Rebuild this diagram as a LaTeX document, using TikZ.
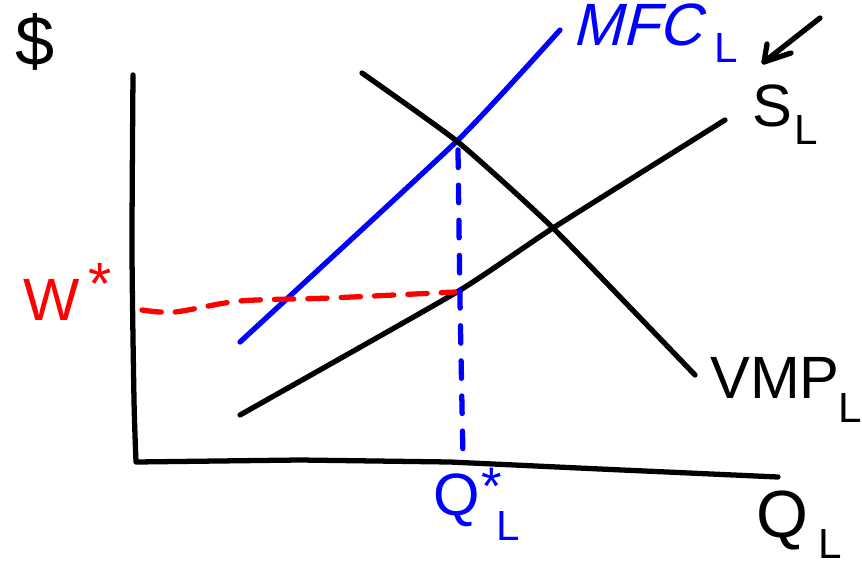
\documentclass[tikz,border=0pt]{standalone}
\usepackage{fontspec}
\setmainfont{Liberation Sans}
\newfontfamily\slantsans[FakeSlant=0.25]{Liberation Sans}
\definecolor{pblue}{RGB}{0,0,255}
\definecolor{pred}{RGB}{255,0,0}
\usetikzlibrary{arrows.meta}
\begin{document}
\begin{tikzpicture}[x=0.02cm,y=-0.02cm,
  pen/.style={line width=3pt,line cap=round,line join=round},
  lbl/.style={inner sep=0pt,font=\fontsize{34}{34}\selectfont},
  sub/.style={inner sep=0pt,font=\fontsize{24}{24}\selectfont}]
\useasboundingbox (0,0) rectangle (862,568);
% axes
\draw[pen,black] plot[smooth,tension=0.4] coordinates {(133,75) (132,250) (134,400) (136,462)}
  -- (300,460) -- (450,462) -- (600,469) -- (778,477);
% MFC
\draw[pen,pblue] plot[smooth,tension=0.3] coordinates {(240,342) (458,140) (560,30)};
% VMP
\draw[pen,black] plot[smooth,tension=0.3] coordinates {(362,73) (458,142) (553,228) (695,375)};
% S
\draw[pen,black] plot[smooth,tension=0.3] coordinates {(240,415) (457,292) (553,228) (725,120)};
% dashed guides
\draw[pen,pred,dash pattern=on 11pt off 8pt] plot[smooth,tension=0.5] coordinates {(142,310) (175,312) (240,301) (330,298) (455,292)};
\draw[pen,pblue,dash pattern=on 10pt off 10pt] plot[smooth,tension=0.4] coordinates {(458,150) (460,300) (463,458)};
% arrow
\coordinate (arA) at (820,18);
\coordinate (arB) at (764,62);
\draw[pen,black] (arA) -- (arB);
\draw[pen,black] (767,44) -- (arB) -- (791,53);
% labels
\node[lbl,font=\fontsize{40}{40}\selectfont] (dollar) at (35,42) {\$};
\node[lbl,text=pred] (wstar) at (52,300) {W};
\node[sub,text=pred,font=\fontsize{34}{34}\selectfont] (wst) at (100,284) {*};
\node[lbl,text=pblue,anchor=base west] (mfc) at (572,45) {{\slantsans MFC}\kern7pt\raisebox{-0.3em}{\fontsize{24}{24}\selectfont L}};
\node[lbl] (s) at (772,106) {S};
\node[sub] (sl) at (806,130) {L};
\node[lbl] (vmp) at (775,378) {VMP};
\node[sub] (vmpl) at (850,408) {L};
\node[lbl,text=pblue] (q) at (457,500) {Q};
\node[sub,text=pblue,font=\fontsize{30}{30}\selectfont] (qs) at (492,486) {*};
\node[sub,text=pblue] (ql) at (508,526) {L};
\node[lbl,font=\fontsize{38}{38}\selectfont] (qq) at (782,520) {Q};
\node[sub] (qql) at (830,544) {L};
\end{tikzpicture}
\end{document}
